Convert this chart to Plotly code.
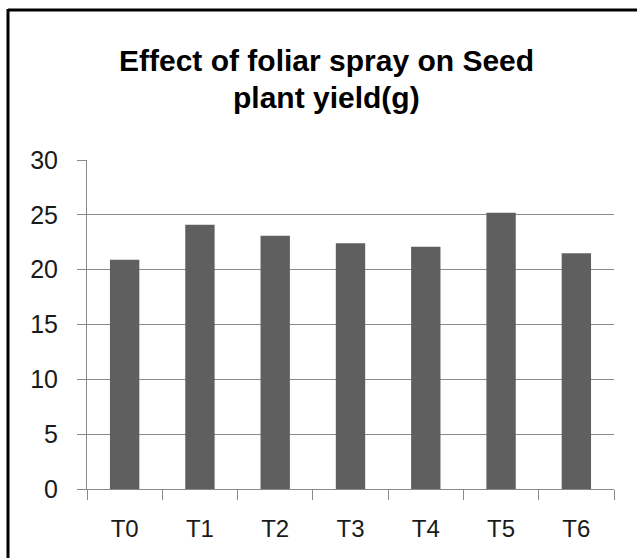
import plotly.graph_objects as go

categories = ["T0", "T1", "T2", "T3", "T4", "T5", "T6"]
seed_yield = [20.9, 24.1, 23.1, 22.4, 22.1, 25.2, 21.5]
y_ticks = [0, 5, 10, 15, 20, 25, 30]
title_lines = ["Effect of foliar spray on Seed", "plant yield(g)"]

W, H = 637, 558
L, R, T, B = 87, 23, 160, 69
pw, ph = W - L - R, H - T - B

fig = go.Figure(go.Bar(x=categories, y=seed_yield, marker=dict(color="#5f5f5f", line=dict(width=0)),
                       hoverinfo="x+y"))

def px_x(x):
    return (x - L) / pw

def px_y(y):
    return 1 - (y - T) / ph

annotations = [
    dict(text="<b>%s</b>" % title_lines[0], xref="paper", yref="paper", x=px_x(326), y=px_y(61),
         xanchor="center", yanchor="middle", showarrow=False, font=dict(size=30, color="#000000")),
    dict(text="<b>%s</b>" % title_lines[1], xref="paper", yref="paper", x=px_x(326), y=px_y(97),
         xanchor="center", yanchor="middle", showarrow=False, font=dict(size=30, color="#000000")),
]

fig.update_layout(
    width=W, height=H,
    margin=dict(l=L, r=R, t=T, b=B, pad=0),
    paper_bgcolor="white", plot_bgcolor="white",
    bargap=0.61,
    showlegend=False,
    font=dict(family="Liberation Sans, Arial, sans-serif", color="#1a1a1a"),
    annotations=annotations,
    xaxis=dict(showline=True, linecolor="#8a8a8a", linewidth=1,
               ticks="outside", tickson="boundaries", ticklen=10, tickcolor="#8a8a8a",
               tickfont=dict(size=24), ticklabelstandoff=18, showgrid=False),
    yaxis=dict(range=[0, 30], tickvals=y_ticks, showline=True, linecolor="#8a8a8a", linewidth=1,
               ticks="outside", ticklen=9, tickcolor="#8a8a8a",
               showgrid=True, gridcolor="#8a8a8a", gridwidth=1, zeroline=False,
               tickfont=dict(size=25), ticklabelstandoff=14),
    shapes=[
        dict(type="line", xref="paper", yref="paper", x0=px_x(8), x1=px_x(W), y0=px_y(10), y1=px_y(10),
             line=dict(color="black", width=3)),
        dict(type="line", xref="paper", yref="paper", x0=px_x(8), x1=px_x(8), y0=px_y(9), y1=px_y(H),
             line=dict(color="black", width=3)),
    ],
)

fig.write_html("out.html", config={"displayModeBar": False},
               post_script="document.body.style.margin='0';document.body.style.overflow='hidden';")
